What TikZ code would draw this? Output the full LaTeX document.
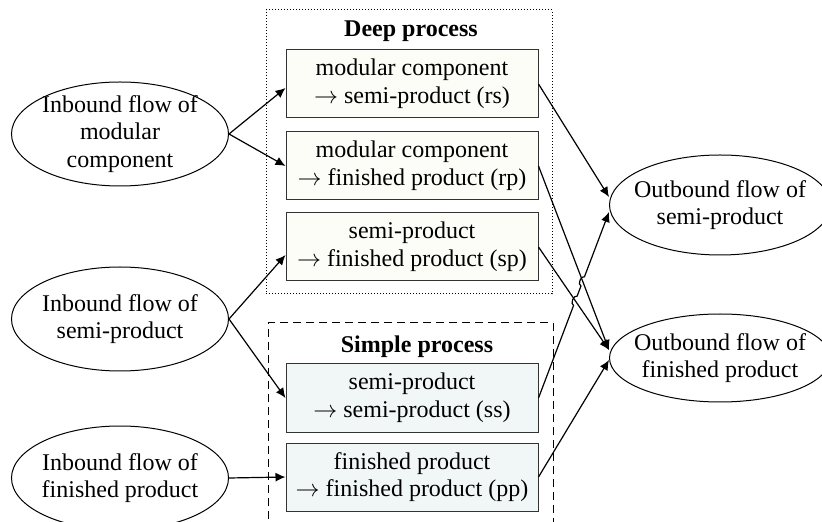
\documentclass[tikz,border=0pt]{standalone}
\usepackage{fontspec}
\setmainfont{Liberation Serif}
\usepackage{tikz}
\usetikzlibrary{shapes.geometric,calc,intersections,arrows.meta}
\definecolor{deepfill}{HTML}{FDFDF7}
\definecolor{simplefill}{HTML}{F1F7F7}
\tikzset{every node/.style={font=\fontsize{12}{13.8}\selectfont},
	flow ellipse/.style={ellipse, draw, align=center, inner xsep=-4pt, inner ysep=-4pt,
		minimum width=108.5pt, minimum height=52pt},
	task box/.style={rectangle, draw=black!80, align=center, inner sep=1pt,
		minimum width=126pt, minimum height=34pt},
	deep box/.style={task box, fill=deepfill},
	simple box/.style={task box, fill=simplefill},
	title/.style={font=\fontsize{12}{13.8}\selectfont\bfseries},
	flow/.style={draw, -{Latex[length=5pt,width=4.5pt]}, line width=0.6pt}}

\begin{document}
\begin{tikzpicture}[x=0.5pt, y=-0.5pt, line width=0.5pt]
		\useasboundingbox (0,0) rectangle (822,522);
		\clip (0,0) rectangle (822,522);
		% process frames
		\node[draw, densely dotted, minimum width=143pt, minimum height=142pt] (deep) at (409,152){};
		\node[draw, dash pattern=on 4pt off 2.5pt, minimum width=142.5pt, minimum height=108.5pt] (simple) at (410.5,431.5){};
		\node[title] (deeptitle) at (411,31){Deep process};
		\node[title] (simpletitle) at (417,347){Simple process};
		% tasks
		\node[deep box] (rs) at (412,84){modular component\\$\rightarrow$ semi-product (rs)};
		\node[deep box] (rp) at (412,166){modular component\\$\rightarrow$ finished product (rp)};
		\node[deep box] (sp) at (412,247){semi-product\\$\rightarrow$ finished product (sp)};
		\node[simple box] (ss) at (412,398){semi-product\\$\rightarrow$ semi-product (ss)};
		\node[simple box] (pp) at (412,477){finished product\\$\rightarrow$ finished product (pp)};
		% flows
		\node[flow ellipse] (im) at (120,134){Inbound flow of\\modular\\component};
		\node[flow ellipse] (is) at (120,319){Inbound flow of\\semi-product};
		\node[flow ellipse] (if) at (120,478){Inbound flow of\\finished product};
		\node[flow ellipse, minimum width=110.5pt, minimum height=50pt] (os) at (720,205){Outbound flow of\\semi-product};
		\node[flow ellipse, minimum width=110.5pt, minimum height=44pt] (of) at (720,358){Outbound flow of\\finished product};
		\coordinate (osa) at ([yshift=4pt]os.west);
		\coordinate (osb) at ([yshift=-3.5pt]os.west);
		\coordinate (ofa) at ([yshift=4pt]of.west);
		\coordinate (ofb) at ([yshift=-1pt]of.west);
		\draw[flow] (im.east) -- ([yshift=-2pt]rs.west);
		\draw[flow] (im.east) -- (rp.west);
		\draw[flow] (is.east) -- ([yshift=-4pt]sp.west);
		\draw[flow] (is.east) -- (ss.west);
		\draw[flow] (if.east) -- (pp.west);
		\draw[flow] (rs.east) -- (osa);
		\draw[flow, name path=rpline] (rp.east) -- (ofa);
		\draw[flow, name path=spline] (sp.east) -- (ofa);
		\draw[flow] (pp.east) -- (ofb);
		% ss line hops over the two crossings
		\path[name path=ssline] (ss.east) -- (osb);
		\path[name intersections={of=ssline and spline, by=hopa}];
		\path[name intersections={of=ssline and rpline, by=hopb}];
		\draw[flow] (ss.east) -- ($(hopa)!2.5pt!(ss.east)$) to[bend left=90] ($(hopa)!2.5pt!(osb)$)
			-- ($(hopb)!2.5pt!(ss.east)$) to[bend left=90] ($(hopb)!2.5pt!(osb)$) -- (osb);
		\end{tikzpicture}
\end{document}
